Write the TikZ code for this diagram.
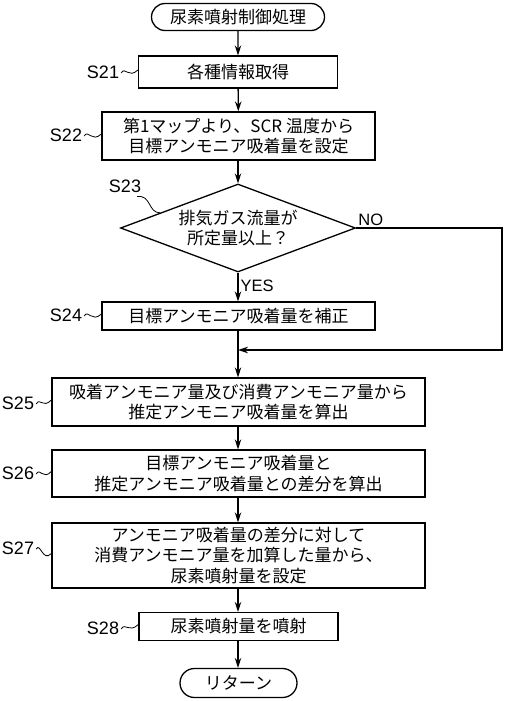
\documentclass[tikz,border=0pt]{standalone}
\usepackage{fontspec}
\setmainfont{Noto Sans CJK JP}
\newfontfamily\labfont{Liberation Sans}
\usetikzlibrary{shapes.geometric,shapes.misc,arrows.meta,calc}
\begin{document}
\begin{tikzpicture}[x=1pt,y=-1pt,
  box/.style={draw,line width=1.3pt,rectangle,inner sep=0pt,align=center,font=\fontsize{17}{20.5}\selectfont},
  term/.style={draw,line width=1.3pt,rounded rectangle,inner sep=0pt,align=center,font=\fontsize{17}{20.5}\selectfont},
  dec/.style={draw,line width=1.3pt,diamond,aspect=2.67,inner sep=0pt,align=center,font=\fontsize{17}{20.5}\selectfont},
  slab/.style={font=\labfont\fontsize{18}{20}\selectfont,inner sep=0pt},
  yn/.style={font=\labfont\fontsize{16.5}{18}\selectfont,inner sep=0pt},
  flow/.style={line width=1.3pt,-{Stealth[length=10pt,width=6.5pt]}},
  sq/.style={line width=0.8pt}]
\useasboundingbox (0,0) rectangle (504,701);

\node[term,minimum width=173pt,minimum height=27pt] (start) at (238,17) {尿素噴射制御処理};
\node[box,minimum width=199pt,minimum height=32pt] (s21) at (238,72) {各種情報取得};
\node[box,minimum width=273pt,minimum height=48pt] (s22) at (238.5,136) {第1マップより、SCR 温度から\\目標アンモニア吸着量を設定};
\node[dec,minimum width=235pt,minimum height=88pt] (s23) at (238,228) {排気ガス流量が\\所定量以上？};
\node[box,minimum width=273pt,minimum height=28pt] (s24) at (238.5,316) {目標アンモニア吸着量を補正};
\node[box,minimum width=373pt,minimum height=48pt] (s25) at (238.5,402) {吸着アンモニア量及び消費アンモニア量から\\推定アンモニア吸着量を算出};
\node[box,minimum width=373pt,minimum height=47pt] (s26) at (238.5,473.5) {目標アンモニア吸着量と\\推定アンモニア吸着量との差分を算出};
\node[box,minimum width=373pt,minimum height=65pt] (s27) at (238.5,555.5) {アンモニア吸着量の差分に対して\\消費アンモニア量を加算した量から、\\尿素噴射量を設定};
\node[box,minimum width=199pt,minimum height=28pt] (s28) at (238.5,626.5) {尿素噴射量を噴射};
\node[term,minimum width=117pt,minimum height=29pt] (ret) at (238.5,683) {リターン};

\coordinate (jn) at (238,350);
\coordinate (nr) at (502,228);
\coordinate (nb) at (502,350);

\draw[flow] (start) -- (s21);
\draw[flow] (s21) -- (s22);
\draw[flow] (s22.south -| s23.north) -- (s23.north);
\draw[flow] (s23.south) -- (s24.north -| s23.south) node[yn,pos=0.45,right=2pt] {YES};
\draw[line width=1.3pt] (s24.south -| jn) -- (jn);
\draw[flow] (jn) -- (s25.north -| jn);
\draw[flow] (s23.east) -- (nr) -- (nb) -- (jn);
\node[yn,anchor=south west] (no) at ($(s23.east)+(2,-2)$) {NO};
\draw[flow] (s25.south -| jn) -- (s26.north -| jn);
\draw[flow] (s26.south -| jn) -- (s27.north -| jn);
\draw[flow] (s27.south -| jn) -- (s28.north -| jn);
\draw[flow] (s28.south -| jn) -- (ret.north -| jn);

\node[slab] (l21) at (103,72) {S21};
\node[slab] (l22) at (66,135) {S22};
\node[slab] (l23) at (125,186) {S23};
\node[slab] (l24) at (66,315) {S24};
\node[slab] (l25) at (18,403) {S25};
\node[slab] (l26) at (18,473) {S26};
\node[slab] (l27) at (18,548) {S27};
\node[slab] (l28) at (103,628) {S28};

\foreach \l/\b in {l21/s21,l22/s22,l24/s24,l25/s25,l26/s26,l27/s27,l28/s28}{
  \draw[sq] ($(\l.east)+(2,1)$) .. controls ($(\l.east)+(6,-6)$) and ($(\l.east |- \b.west)!0.5!(\b.west)+(0,7)$) .. ($(\b.west)+(0,-2)$);
}
\coordinate (d23) at ($(s23.west)!0.34!(s23.north)$);
\draw[sq] ($(l23.south east)+(-4,4)$) .. controls ($(l23.south east)+(10,2)$) and ($(d23)+(-12,0)$) .. (d23);
\end{tikzpicture}
\end{document}
